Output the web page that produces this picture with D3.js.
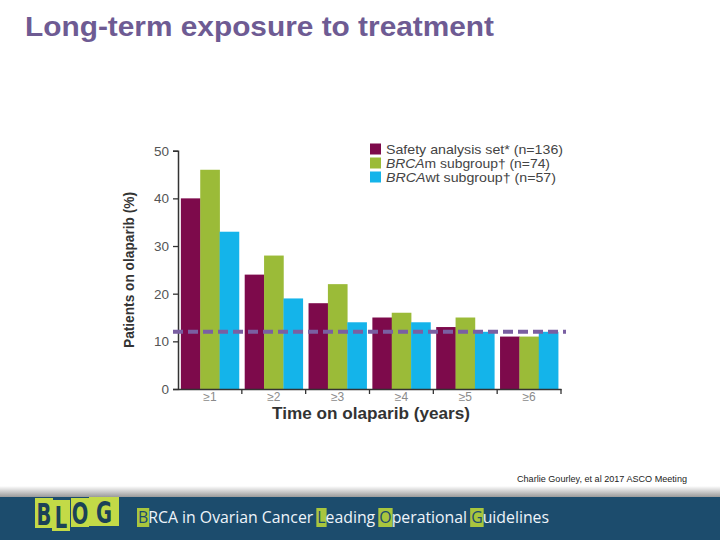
<!DOCTYPE html>
<html><head><meta charset="utf-8">
<script src="https://cdn.jsdelivr.net/npm/d3@7"></script>
<style>body{margin:0;background:#fff;}svg{display:block;}</style>
</head><body>
<svg id="c" width="720" height="540"></svg>
<script>
const categories = ["≥1","≥2","≥3","≥4","≥5","≥6"];
const seriesNames = ["Safety analysis set", "BRCAm", "BRCAwt"];
const safetySet = [40, 24, 18, 15, 13, 11];
const brcaM = [46, 28, 22, 16, 15, 11];
const brcaWt = [33, 19, 14, 14, 12, 12];
const yTicks = [0, 10, 20, 30, 40, 50];
const refLine = 12;
const colors = ["#7d0a4b", "#9bbb38", "#14b4ea"];
const FONT = "Liberation Sans, Arial, sans-serif";

const svg = d3.select("#c");
const m = {l:178, r:561, t:150.7, b:389};
const x = d3.scaleBand().domain(categories).range([m.l, m.r]).paddingInner(0.09).paddingOuter(0.045);
const xs = d3.scaleBand().domain(seriesNames).range([0, x.bandwidth()]);
const y = d3.scaleLinear().domain([0,50]).range([m.b, m.t]);

// title
svg.append("text").attr("x",25).attr("y",36).text("Long-term exposure to treatment")
  .attr("font-family",FONT).attr("font-weight","bold")
  .attr("font-size",28).attr("fill","#6e5b93")
  .attr("textLength",469).attr("lengthAdjust","spacingAndGlyphs");

// bars
const data = [safetySet, brcaM, brcaWt];
const g = svg.append("g");
categories.forEach((c,i)=>{
  data.forEach((arr,j)=>{
    g.append("rect").attr("x", x(c)+xs(seriesNames[j])).attr("width", xs.bandwidth()+0.3)
      .attr("y", y(arr[i])).attr("height", y(0)-y(arr[i])).attr("fill", colors[j]);
  });
});

// y axis
const ya = svg.append("g").attr("transform",`translate(${m.l},0)`)
  .call(d3.axisLeft(y).tickValues(yTicks).tickSize(5).tickPadding(4));
ya.select(".domain").attr("stroke","#333").attr("stroke-width",1.5);
ya.selectAll(".tick line").attr("stroke","#333").attr("stroke-width",1.3);
ya.selectAll("text").attr("font-family",FONT).attr("font-size",13.5).attr("fill","#555");

// x axis
const xa = svg.append("g").attr("transform",`translate(0,${m.b})`)
  .call(d3.axisBottom(x).tickSize(0).tickPadding(3));
xa.select(".domain").attr("stroke","#333").attr("stroke-width",1.5);
xa.selectAll("text").attr("font-family",FONT).attr("font-size",12).attr("fill","#8a8a8a");
// boundary ticks
const bounds = categories.map(c => x(c) - x.step()*x.paddingInner()/2).slice(1).concat([m.r]);
svg.append("g").selectAll("line").data(bounds).join("line")
  .attr("x1",d=>d).attr("x2",d=>d).attr("y1",m.b).attr("y2",m.b+5)
  .attr("stroke","#333").attr("stroke-width",1.3);

// axis titles
svg.append("text").attr("x",371).attr("y",419).attr("text-anchor","middle")
  .text("Time on olaparib (years)").attr("font-family",FONT)
  .attr("font-weight","bold").attr("font-size",16.5).attr("fill","#333")
  .attr("textLength",198).attr("lengthAdjust","spacingAndGlyphs");
svg.append("text").attr("transform","translate(134,270) rotate(-90)").attr("text-anchor","middle")
  .text("Patients on olaparib (%)").attr("font-family",FONT)
  .attr("font-weight","bold").attr("font-size",14.5).attr("fill","#333")
  .attr("textLength",156).attr("lengthAdjust","spacingAndGlyphs");

// legend
const legendItems = [
  {parts:[{t:"Safety analysis set* (n=136)", i:false}], len:177},
  {parts:[{t:"BRCA", i:true},{t:"m subgroup† (n=74)", i:false}], len:164},
  {parts:[{t:"BRCA", i:true},{t:"wt subgroup† (n=57)", i:false}], len:170}
];
legendItems.forEach((item,k)=>{
  const yy = 149 + k*14;
  svg.append("rect").attr("x",370).attr("y",yy-5.5).attr("width",11).attr("height",11).attr("fill",colors[k]);
  const t = svg.append("text").attr("x",386).attr("y",yy+4.5).attr("font-family",FONT)
    .attr("font-size",13).attr("fill","#444")
    .attr("textLength",item.len).attr("lengthAdjust","spacingAndGlyphs");
  item.parts.forEach(p=>t.append("tspan").text(p.t).attr("font-style",p.i?"italic":"normal"));
});

// reference dashed line
svg.append("line").attr("x1",173).attr("x2",566).attr("y1",y(refLine)).attr("y2",y(refLine))
  .attr("stroke","#7a5fa2").attr("stroke-width",4).attr("stroke-dasharray","10,5");

// citation
svg.append("text").attr("x",517).attr("y",482).text("Charlie Gourley, et al 2017 ASCO Meeting")
  .attr("font-family",FONT).attr("font-size",8.5).attr("fill","#222")
  .attr("textLength",170).attr("lengthAdjust","spacingAndGlyphs");

// footer
const defs = svg.append("defs");
const grad = defs.append("linearGradient").attr("id","sh").attr("x1",0).attr("x2",0).attr("y1",0).attr("y2",1);
grad.append("stop").attr("offset","0%").attr("stop-color","#fff");
grad.append("stop").attr("offset","100%").attr("stop-color","#9a9a9a");
svg.append("rect").attr("x",0).attr("y",486).attr("width",720).attr("height",11).attr("fill","url(#sh)");
svg.append("rect").attr("x",0).attr("y",497).attr("width",720).attr("height",43).attr("fill","#1c4c6d");

// logo
const logo = [{ch:"B",x:35,w:18,y:498,h:30},{ch:"L",x:52,w:18,y:500,h:31},{ch:"O",x:71,w:18,y:498,h:29},{ch:"G",x:89,w:30,y:497,h:29}];
logo.forEach(l=>{
  svg.append("rect").attr("x",l.x).attr("y",l.y).attr("width",l.w).attr("height",l.h).attr("fill","#c3da47");
  const cx = l.x+l.w/2;
  svg.append("text").attr("x",cx).attr("y",l.y+l.h-3).attr("text-anchor","middle").text(l.ch)
    .attr("font-family","DejaVu Sans Condensed, DejaVu Sans, sans-serif").attr("font-weight","bold")
    .attr("font-size",31).attr("fill","#1b4257")
    .attr("transform",`translate(${cx},0) scale(0.7,1) translate(${-cx},0)`);
});
// tagline
const tag = [{t:"B",h:true},{t:"RCA in Ovarian Cancer ",h:false},{t:"L",h:true},{t:"eading ",h:false},{t:"O",h:true},{t:"perational ",h:false},{t:"G",h:true},{t:"uidelines",h:false}];
const hlGroup = svg.append("g");
const tg = svg.append("text").attr("x",138).attr("y",523).attr("font-family","Open Sans, sans-serif")
  .attr("font-size",16).attr("fill","#eef4fa")
  .attr("textLength",411).attr("lengthAdjust","spacingAndGlyphs");
tag.forEach(p=>tg.append("tspan").text(p.t).attr("fill",p.h?"#1c4c6d":"#eef4fa"));
const textNode = tg.node();
let idx=0;
tag.forEach(p=>{
  if(p.h){
    const start = textNode.getStartPositionOfChar(idx);
    const end = textNode.getEndPositionOfChar(idx);
    hlGroup.append("rect").attr("x",start.x-1).attr("y",508).attr("width",end.x-start.x+2).attr("height",19).attr("fill","#a9c63e");
  }
  idx += p.t.length;
});
</script>
</body></html>
